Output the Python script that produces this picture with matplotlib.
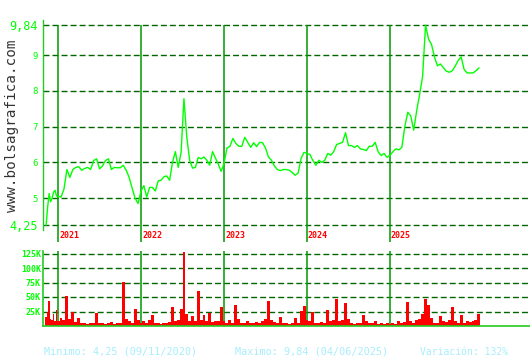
import matplotlib

matplotlib.use("Agg")
import matplotlib.pyplot as plt
import numpy as np

plt.rcParams["font.family"] = ["DejaVu Sans Mono", "DejaVu Sans"]
plt.rcParams["lines.scale_dashes"] = False

# Fecha del primer dato (09/11/2020) en años decimales
inicio_serie = 2020.857

# Cotización (euros), muestras repartidas uniformemente dentro de cada año
precio_2020 = [4.25, 4.75, 5.13, 4.9, 5.0, 5.17, 5.22, 5.06]
precio_2021 = [5.05, 5.03, 5.25, 5.8, 5.58, 5.8, 5.86, 5.88, 5.78, 5.83, 5.86, 5.8, 6.05, 6.1,
               5.82, 5.9, 6.05, 6.1, 5.8, 5.86, 5.85, 5.85, 5.92, 5.78, 5.58, 5.28, 5.0, 4.85]
precio_2022 = [5.2, 5.35, 5.03, 5.3, 5.3, 5.2, 5.48, 5.5, 5.6, 5.62, 5.5, 6.0, 6.3, 5.86, 6.28,
               7.78, 6.7, 6.06, 5.84, 5.86, 6.14, 6.1, 6.15, 6.06, 5.92, 6.3, 6.12, 5.95, 5.75]
precio_2023 = [5.97, 6.4, 6.45, 6.67, 6.53, 6.45, 6.45, 6.7, 6.56, 6.42, 6.55, 6.44, 6.56, 6.55,
               6.4, 6.15, 6.06, 5.9, 5.8, 5.77, 5.8, 5.8, 5.78, 5.72, 5.64, 5.7, 6.11, 6.28]
precio_2024 = [6.25, 6.22, 6.05, 5.92, 6.06, 6.0, 6.06, 6.25, 6.2, 6.3, 6.5, 6.53, 6.56, 6.83,
               6.47, 6.47, 6.42, 6.47, 6.38, 6.36, 6.33, 6.45, 6.45, 6.56, 6.3, 6.19, 6.25, 6.14]
precio_2025 = [6.2, 6.3, 6.38, 6.35, 6.42, 7.0, 7.4, 7.3, 6.9, 7.44, 7.9, 8.4, 9.84, 9.45,
               9.3, 8.95, 8.7, 8.75, 8.65, 8.55, 8.52, 8.56, 8.69, 8.85, 8.95, 8.6, 8.5, 8.5]
precio_2026 = [8.5, 8.56, 8.64]

# Volumen negociado (miles de títulos), mismas fechas que la cotización
volumen_2020 = [15, 25, 43, 12, 10, 21, 8, 27]
volumen_2021 = [9, 14, 10, 52, 12, 25, 7, 14, 6, 5, 4, 6, 5, 22,
                5, 6, 4, 5, 7, 4, 6, 5, 76, 12, 8, 6, 29, 10]
volumen_2022 = [6, 8, 5, 10, 19, 6, 5, 4, 6, 5, 7, 33, 8, 10, 30,
                128, 20, 9, 17, 8, 60, 10, 19, 8, 22, 7, 9, 8, 32]
volumen_2023 = [8, 6, 10, 5, 36, 12, 6, 5, 8, 6, 5, 7, 6, 9,
                12, 43, 10, 7, 6, 16, 5, 6, 4, 5, 14, 6, 26, 35]
volumen_2024 = [10, 8, 25, 6, 5, 7, 6, 28, 8, 10, 47, 8, 10, 40,
                12, 5, 4, 6, 5, 19, 9, 6, 5, 8, 4, 5, 4, 5]
volumen_2025 = [4, 5, 4, 8, 6, 7, 42, 8, 6, 10, 12, 20, 47, 36,
                14, 5, 6, 17, 9, 7, 10, 32, 9, 6, 19, 5, 9, 7]
volumen_2026 = [8, 10, 20]

anios = [2021, 2022, 2023, 2024, 2025]
ticks_precio = [4.25, 5, 6, 7, 8, 9, 9.84]
etiquetas_precio = ["4,25", "5", "6", "7", "8", "9", "9,84"]
ticks_volumen = [25, 50, 75, 100, 125]
etiquetas_volumen = ["25K", "50K", "75K", "100K", "125K"]

texto_minimo = "Minimo: 4,25 (09/11/2020)"
texto_maximo = "Maximo: 9,84 (04/06/2025)"
texto_variacion = "Variación: 132%"

VERDE = "#00ff00"
VERDE_EJE = "#22cc22"
VERDE_ANIO = "#009900"
VERDE_REJILLA = "#006600"
CIAN = "#a8eefc"


def fechas_anio(anio, n, paso=None):
    if paso is None:
        paso = 1.0 / n
    return anio + np.arange(n) * paso


bloques_precio = [precio_2020, precio_2021, precio_2022, precio_2023,
                  precio_2024, precio_2025, precio_2026]
bloques_volumen = [volumen_2020, volumen_2021, volumen_2022, volumen_2023,
                   volumen_2024, volumen_2025, volumen_2026]

fechas, pasos = [], []
paso_2020 = (2021 - inicio_serie) / len(precio_2020)
fechas.append(inicio_serie + np.arange(len(precio_2020)) * paso_2020)
pasos.append(np.full(len(precio_2020), paso_2020))
for anio, bloque in zip(anios, bloques_precio[1:6]):
    fechas.append(fechas_anio(anio, len(bloque)))
    pasos.append(np.full(len(bloque), 1.0 / len(bloque)))
fechas.append(fechas_anio(2026, len(precio_2026), 1.0 / 28))
pasos.append(np.full(len(precio_2026), 1.0 / 28))

x = np.concatenate(fechas)
anchos = np.concatenate(pasos)
precio = np.concatenate(bloques_precio)
volumen = np.concatenate(bloques_volumen)

W, H = 530, 360
fig = plt.figure(figsize=(W / 100, H / 100), dpi=100)
xlim = (2020.819, 2026.687)

# --- Panel de cotización ---
ax = fig.add_axes([43 / W, 1 - 230 / H, 487 / W, 210 / H])
ax.set_xlim(*xlim)
ax.set_ylim(4.11, 9.98)
for v in ticks_precio:
    ax.axhline(v, color=VERDE_REJILLA, lw=1.0, dashes=(4.3, 2.2), zorder=1)
ax.vlines(anios, 3.78, 9.84, color=VERDE_ANIO, lw=1.1, clip_on=False, zorder=2)
ax.plot(x, precio, color=VERDE, lw=1.0, zorder=3)
ax.set_yticks(ticks_precio)
ax.set_yticklabels(etiquetas_precio)
ax.tick_params(axis="y", length=0, pad=4, colors=VERDE, labelsize=6.5)
for lab in ax.get_yticklabels():
    if "," in lab.get_text():
        lab.set_fontsize(8.5)
ax.set_xticks([])
for s in ["top", "right", "bottom"]:
    ax.spines[s].set_visible(False)
ax.spines["left"].set_color(VERDE_EJE)
ax.spines["left"].set_linewidth(1.0)
for anio in anios:
    ax.text(anio + 0.012, -0.028, str(anio), transform=ax.get_xaxis_transform(),
            color="#ff0000", fontsize=6, fontweight="bold", ha="left", va="center")

# --- Panel de volumen ---
axv = fig.add_axes([43 / W, 1 - 326 / H, 487 / W, 75.4 / H])
axv.set_xlim(*xlim)
axv.set_ylim(0, 130)
for v in ticks_volumen:
    axv.axhline(v, color=VERDE_REJILLA, lw=1.0, dashes=(4.3, 2.2), zorder=1)
for anio in anios:
    axv.axvline(anio, color=VERDE_ANIO, lw=1.1, zorder=2)
axv.bar(x, volumen, width=anchos, color="#ff0000", linewidth=0, zorder=3)
axv.set_yticks(ticks_volumen)
axv.set_yticklabels(etiquetas_volumen)
axv.tick_params(axis="y", length=0, pad=1.5, colors=VERDE, labelsize=6)
for lab in axv.get_yticklabels():
    lab.set_fontweight("bold")
axv.set_xticks([])
for s in ["top", "right"]:
    axv.spines[s].set_visible(False)
for s in ["left", "bottom"]:
    axv.spines[s].set_color(VERDE_EJE)
    axv.spines[s].set_linewidth(1.2)
axv.spines["bottom"].set_zorder(4)

# --- Textos ---
fig.text(12 / W, 1 - 126 / H, "www.bolsagrafica.com", rotation=90, ha="center",
         va="center", fontsize=10.3, color="#333333")
fig.text(44 / W, 1 - 352 / H, texto_minimo, fontsize=7.3, color=CIAN, va="center")
fig.text(235 / W, 1 - 352 / H, texto_maximo, fontsize=7.3, color=CIAN, va="center")
fig.text(420 / W, 1 - 352 / H, texto_variacion, fontsize=7.0, color=CIAN, va="center")

fig.savefig("out.png", dpi=100)
